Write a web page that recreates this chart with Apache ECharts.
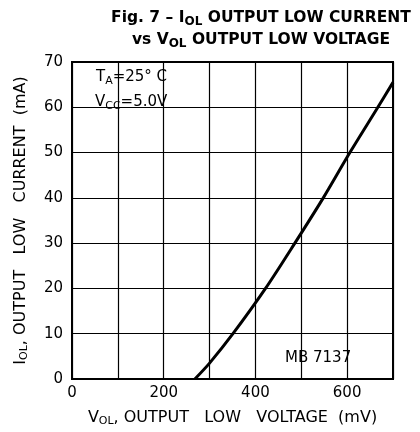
<!DOCTYPE html>
<html>
<head>
<meta charset="utf-8">
<script src="https://cdn.jsdelivr.net/npm/echarts@6/dist/echarts.min.js"></script>
<style>
  html, body { margin: 0; padding: 0; background: #fff; }
  #main { width: 420px; height: 432px; }
</style>
</head>
<body>
<div id="main"></div>
<script>
// curve: VOL (mV) vs IOL (mA)
const vol = [268, 300, 351, 422, 486, 548, 606, 667, 700];
const iol = [0, 3.5, 10, 20, 30, 40, 50, 60, 65.5];
const xLabels = [0, 200, 400, 600];

const font = 'DejaVu Sans';
const subStyle = { fontSize: 11, fontFamily: font, padding: [7, 0, 0, 0] };

let myChart = echarts.init(document.getElementById('main'));
let option = {
  animation: false,
  title: {
    text: 'Fig. 7 – I{s|OL} OUTPUT LOW CURRENT\nvs V{s|OL} OUTPUT LOW VOLTAGE',
    left: 256, top: 2, textAlign: 'center',
    textStyle: {
      fontFamily: font, fontSize: 15.5, fontWeight: 'bold', color: '#000', lineHeight: 22,
      rich: { s: { fontSize: 12, fontWeight: 'bold', fontFamily: font, padding: [7, 0, 0, 0] } }
    }
  },
  grid: {
    left: 72, right: 27, top: 62, bottom: 51,
    show: true, borderColor: '#000', borderWidth: 2
  },
  xAxis: {
    type: 'value', min: 0, max: 700, interval: 100,
    name: 'V{s|OL}, OUTPUT   LOW   VOLTAGE  (mV)',
    nameLocation: 'middle', nameGap: 30,
    nameTextStyle: { fontFamily: font, fontSize: 16, color: '#000', rich: { s: subStyle } },
    axisLine: { show: true, lineStyle: { color: '#000', width: 2 } },
    axisTick: { show: false },
    axisLabel: {
      fontFamily: font, fontSize: 15, color: '#000', margin: 7,
      formatter: v => xLabels.indexOf(v) >= 0 ? String(v) : ''
    },
    splitLine: { show: true, lineStyle: { color: '#000', width: 1.2 } }
  },
  yAxis: {
    type: 'value', min: 0, max: 70, interval: 10,
    name: 'I{s|OL}, OUTPUT   LOW   CURRENT  (mA)',
    nameLocation: 'middle', nameGap: 42, nameRotate: 90,
    nameTextStyle: { fontFamily: font, fontSize: 16, color: '#000', rich: { s: subStyle } },
    axisLine: { show: true, lineStyle: { color: '#000', width: 2 } },
    axisTick: { show: false },
    axisLabel: { fontFamily: font, fontSize: 15, color: '#000', margin: 9 },
    splitLine: { show: true, lineStyle: { color: '#000', width: 1.2 } }
  },
  graphic: [
    {
      type: 'text', left: 96, top: 70,
      style: {
        text: 'T{s|A}=25° C', fontFamily: font, fontSize: 15, fill: '#000',
        rich: { s: subStyle }
      }
    },
    {
      type: 'text', left: 95, top: 95,
      style: {
        text: 'V{s|CC}=5.0V', fontFamily: font, fontSize: 15, fill: '#000',
        rich: { s: subStyle }
      }
    },
    {
      type: 'text', left: 285, top: 351,
      style: { text: 'MB 7137', fontFamily: font, fontSize: 15, fill: '#000' }
    }
  ],
  series: [
    {
      type: 'line',
      data: vol.map((v, i) => [v, iol[i]]),
      smooth: 0.3,
      showSymbol: false,
      lineStyle: { color: '#000', width: 3 }
    }
  ]
};
myChart.setOption(option);
</script>
</body>
</html>
